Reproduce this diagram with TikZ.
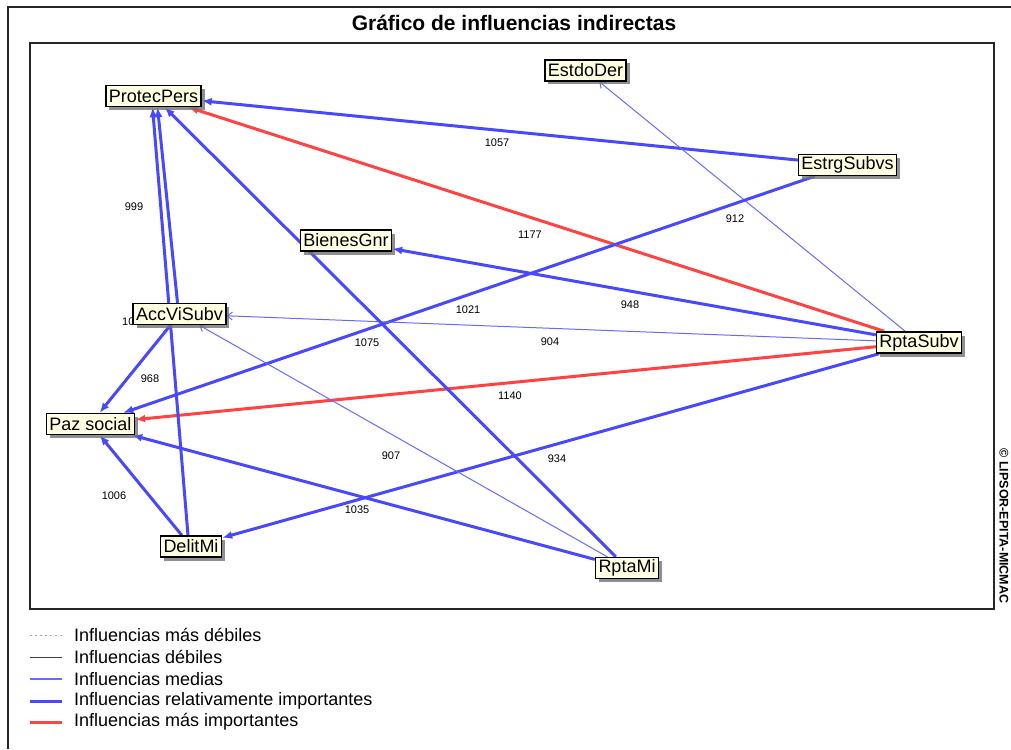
\documentclass[tikz,border=0pt]{standalone}
\usepackage{fontspec}
\setmainfont{Liberation Sans}
\usetikzlibrary{arrows.meta,shadows,backgrounds}

\definecolor{relblue}{RGB}{72,72,255}
\definecolor{medblue}{RGB}{105,105,255}
\definecolor{topred}{RGB}{255,66,66}
\definecolor{boxfill}{RGB}{255,255,226}

\tikzset{
  var/.style={draw=black, line width=1.4pt, fill=boxfill, inner xsep=3pt, inner ysep=0pt,
    minimum height=21pt, font=\fontsize{18}{18}\selectfont,
    drop shadow={shadow xshift=3.5pt, shadow yshift=-3.5pt, fill=black!55, opacity=0.8}},
  rel/.style={draw=relblue, line width=3pt, -{Latex[length=10pt,width=8pt]}},
  med/.style={draw=medblue, line width=1pt, -{Straight Barb[length=5pt,width=8pt]}},
  maxinf/.style={draw=topred, line width=3pt, -{Latex[length=10pt,width=8pt]}},
  lbl/.style={font=\fontsize{11}{11}\selectfont, inner sep=0pt},
  legtext/.style={font=\fontsize{18}{18}\selectfont, anchor=west, inner sep=0pt}
}

\begin{document}
\begin{tikzpicture}[x=1pt, y=-1pt]

    \useasboundingbox (0,0) rectangle (1011,749);

    \draw[line width=1.5pt, black!85] (8,749) |- (1011,7);

    \draw[line width=1.5pt, black!85] (30,43) rectangle (994,609);

    \node[font=\bfseries\fontsize{21}{21}\selectfont] (title) at (514,23) {Gráfico de influencias indirectas};

    % variables
    \node[var] (protec) at (153.5,96) {ProtecPers};
    \node[var] (estdo) at (585.5,70.5) {EstdoDer};
    \node[var] (estrg) at (847.5,165) {EstrgSubvs};
    \node[var] (bienes) at (346,240.5) {BienesGnr};
    \node[var] (acc) at (179.5,314) {AccViSubv};
    \node[var] (rsubv) at (919,342.5) {RptaSubv};
    \node[var] (paz) at (90.5,424) {Paz social};
    \node[var] (delit) at (191,546.5) {DelitMi};
    \node[var] (rmi) at (627,568) {RptaMi};

    % influencias
    \begin{scope}[on background layer]
    \draw[rel] (estrg) -- (protec);
    \draw[maxinf] (rsubv) -- (protec);
    \draw[med] (rsubv) -- (estdo);
    \draw[rel] (estrg) -- (paz);
    \draw[rel] (rsubv) -- (bienes);
    \draw[med] (rsubv) -- (acc);
    \draw[maxinf] (rsubv) -- (paz);
    \draw[rel] (rsubv) -- (delit);
    \draw[med] (rmi) -- (acc);
    \draw[rel] (rmi) -- (paz);
    \draw[rel] (rmi) -- (protec);
    \draw[rel] ([xshift=-2pt]acc.north) -- ([xshift=4pt]protec.south);
    \draw[rel] ([xshift=-3pt]delit.north) -- ([xshift=-1pt]protec.south);
    \draw[rel] (acc) -- (paz);
    \draw[rel] (delit) -- (paz);

    \node[lbl, anchor=west] (l10) at (122,322) {10};
    \end{scope}

    \node[lbl] (l1057) at (497,143) {1057};
    \node[lbl] (l1177) at (530,235) {1177};
    \node[lbl] (l912) at (735,219) {912};
    \node[lbl] (l1021) at (468,310) {1021};
    \node[lbl] (l948) at (630,305) {948};
    \node[lbl] (l904) at (550,342) {904};
    \node[lbl] (l1140) at (510,396) {1140};
    \node[lbl] (l934) at (557,459) {934};
    \node[lbl] (l907) at (391,456) {907};
    \node[lbl] (l1035) at (357,510) {1035};
    \node[lbl] (l1075) at (367,343) {1075};
    \node[lbl] (l999) at (134,207) {999};
    \node[lbl] (l968) at (150,379) {968};
    \node[lbl] (l1006) at (114,496) {1006};

    \node[font=\bfseries\fontsize{12.5}{12.5}\selectfont, rotate=-90] (copy) at (1004,526) {© LIPSOR-EPITA-MICMAC};

    % leyenda
    \draw[black!35, line width=0.8pt, dash pattern=on 2pt off 3pt] (30,635) -- (62,635);
    \node[legtext] (leg1) at (74,635) {Influencias más débiles};

    \draw[black!75, line width=1pt] (30,657) -- (62,657);
    \node[legtext] (leg2) at (74,657) {Influencias débiles};

    \draw[medblue, line width=1.2pt] (30,679) -- (62,679);
    \node[legtext] (leg3) at (74,679) {Influencias medias};

    \draw[relblue, line width=3pt] (30,701) -- (62,701);
    \node[legtext] (leg4) at (74,701) {Influencias relativamente importantes};

    \draw[topred, line width=3pt] (30,722) -- (62,722);
    \node[legtext] (leg5) at (74,722) {Influencias más importantes};

\end{tikzpicture}
\end{document}
